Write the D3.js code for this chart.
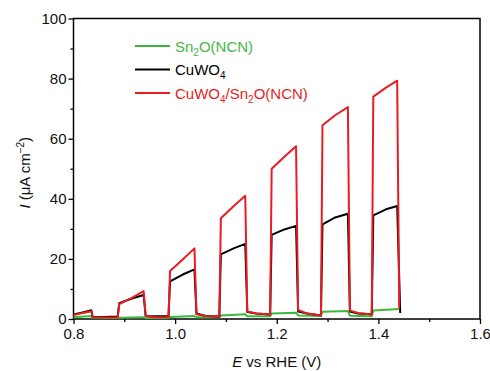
<!DOCTYPE html>
<html>
<head>
<meta charset="utf-8">
<script src="https://cdn.jsdelivr.net/npm/d3@7"></script>
<style>
body { margin: 0; background: #fff; }
text { font-family: "Liberation Sans", Arial, sans-serif; }
</style>
</head>
<body>
<div id="chart"></div>
<script>
// data: [E (V vs RHE), I (uA cm-2)]
var sn2oNcn = [[0.800,0.6],[0.835,1.0],[0.838,0.3],[0.887,0.3],[0.890,0.4],[0.938,0.6],[0.942,0.3],[0.987,0.3],
  [0.990,0.7],[1.038,1.0],[1.042,0.6],[1.087,0.6],[1.090,1.2],[1.138,1.6],[1.142,0.9],[1.187,0.9],
  [1.190,1.8],[1.238,2.1],[1.242,1.2],[1.287,1.0],[1.290,2.4],[1.340,2.7],[1.344,1.1],[1.387,0.9],
  [1.390,2.8],[1.440,3.3]];

var cuwo4 = [[0.800,1.5],[0.818,2.2],[0.835,2.9],[0.838,0.6],[0.860,0.7],[0.887,0.8],[0.890,5.3],[0.915,6.8],
  [0.938,8.0],[0.942,1.0],[0.960,0.9],[0.987,0.9],[0.990,12.5],[1.015,14.8],[1.038,16.5],[1.042,1.8],
  [1.060,1.0],[1.087,0.8],[1.090,21.5],[1.115,23.5],[1.138,25.0],[1.142,2.3],[1.160,1.8],[1.187,1.5],
  [1.190,28.0],[1.215,29.8],[1.238,31.0],[1.242,2.5],[1.260,1.8],[1.287,1.2],[1.290,31.5],[1.315,33.8],
  [1.340,35.0],[1.344,2.5],[1.360,1.8],[1.387,1.6],[1.390,34.5],[1.415,36.5],[1.437,37.6],[1.443,2.0]];

var cuwo4Sn2o = [[0.800,1.3],[0.818,2.0],[0.835,2.6],[0.838,0.6],[0.860,0.5],[0.887,0.5],[0.890,5.0],[0.915,7.0],
  [0.938,9.3],[0.942,1.0],[0.960,0.6],[0.987,0.6],[0.990,16.0],[1.015,19.8],[1.038,23.5],[1.042,1.6],
  [1.060,1.0],[1.087,0.8],[1.090,33.5],[1.115,37.5],[1.138,41.0],[1.142,2.5],[1.160,1.8],[1.187,1.5],
  [1.190,50.0],[1.215,54.0],[1.238,57.5],[1.242,3.0],[1.260,1.8],[1.287,1.2],[1.290,64.5],[1.315,67.8],
  [1.340,70.5],[1.344,2.8],[1.360,2.0],[1.387,1.5],[1.390,74.0],[1.415,77.0],[1.437,79.3],[1.441,3.5]];

var xTicks = [0.8, 1.0, 1.2, 1.4, 1.6];
var xMinor = [0.9, 1.1, 1.3, 1.5];
var yTicks = [0, 20, 40, 60, 80, 100];
var yMinor = [10, 30, 50, 70, 90];

var series = [
  {name: ['Sn', '2', 'O(NCN)'], data: sn2oNcn, color: '#3cb93c', text: '#46b846'},
  {name: ['CuWO', '4', ''], data: cuwo4, color: '#000000', text: '#000000'},
  {name: ['CuWO', '4', '/Sn', '2', 'O(NCN)'], data: cuwo4Sn2o, color: '#ea1c22', text: '#e41e24'}
];

var W = 490, H = 371;
var margin = {top: 18.5, left: 73.5, right: 10, bottom: 52};
var width = W - margin.left - margin.right;
var height = H - margin.top - margin.bottom;

var svg = d3.select('#chart').append('svg')
    .attr('width', W)
    .attr('height', H)
    .append('g')
    .attr('transform', 'translate(' + margin.left + ',' + margin.top + ')');

var x = d3.scaleLinear().domain([0.8, 1.6]).range([0, width]);
var y = d3.scaleLinear().domain([0, 100]).range([height, 0]);

var xAxis = svg.append('g')
    .attr('transform', 'translate(0,' + height + ')')
    .call(d3.axisBottom(x).tickValues(xTicks).tickFormat(d3.format('.1f')).tickSize(5).tickPadding(4));
svg.append('g')
    .attr('transform', 'translate(0,' + height + ')')
    .call(d3.axisBottom(x).tickValues(xMinor).tickFormat('').tickSize(3));

var yAxis = svg.append('g')
    .call(d3.axisLeft(y).tickValues(yTicks).tickSize(5).tickPadding(2));
svg.append('g')
    .call(d3.axisLeft(y).tickValues(yMinor).tickFormat('').tickSize(3));

svg.selectAll('.domain').remove();
svg.selectAll('.tick line').attr('stroke', '#000').attr('stroke-width', 1.3);
svg.selectAll('.tick text').attr('font-size', 15).attr('fill', '#111')
    .style('font-family', '"Liberation Sans", Arial, sans-serif');

// frame
svg.append('rect')
    .attr('width', width)
    .attr('height', height)
    .attr('fill', 'none')
    .attr('stroke', '#000')
    .attr('stroke-width', 1.5);

var line = d3.line()
    .x(function(d){ return x(d[0]); })
    .y(function(d){ return y(d[1]); });

svg.selectAll('.curve')
    .data(series)
    .enter().append('path')
    .attr('class', 'curve')
    .attr('d', function(d){ return line(d.data); })
    .attr('fill', 'none')
    .attr('stroke', function(d){ return d.color; })
    .attr('stroke-width', 2)
    .attr('stroke-linejoin', 'round');

// legend
var legend = svg.selectAll('.legend')
    .data(series)
    .enter().append('g')
    .attr('class', 'legend')
    .attr('transform', function(d, i){ return 'translate(' + (135 - margin.left) + ',' + (46 - margin.top + i * 23.5) + ')'; });

legend.append('line')
    .attr('x1', 0).attr('x2', 35)
    .attr('stroke', function(d){ return d.color; })
    .attr('stroke-width', 2);

var ltext = legend.append('text')
    .attr('x', 40)
    .attr('y', 5.5)
    .attr('font-size', 15)
    .attr('fill', function(d){ return d.text; });

ltext.each(function(d){
  var t = d3.select(this);
  d.name.forEach(function(part, i){
    if (part === '') return;
    var sub = i % 2 === 1;
    t.append('tspan')
      .attr('font-size', sub ? 10 : 15)
      .attr('dy', sub ? 4 : (i > 0 ? -4 : 0))
      .text(part);
  });
});

// axis titles
var xt = svg.append('text')
    .attr('x', width / 2)
    .attr('y', height + 48)
    .attr('text-anchor', 'middle')
    .attr('font-size', 15)
    .attr('fill', '#111');
xt.append('tspan').attr('font-style', 'italic').text('E');
xt.append('tspan').text(' vs RHE (V)');

var yt = svg.append('text')
    .attr('transform', 'translate(' + (30 - margin.left) + ',' + (height / 2 + 4) + ') rotate(-90)')
    .attr('text-anchor', 'middle')
    .attr('font-size', 15)
    .attr('fill', '#111');
yt.append('tspan').attr('font-style', 'italic').text('I');
yt.append('tspan').text(' (μA cm');
yt.append('tspan').attr('font-size', 10).attr('dy', -6).text('−2');
yt.append('tspan').attr('dy', 6).text(')');
</script>
</body>
</html>
